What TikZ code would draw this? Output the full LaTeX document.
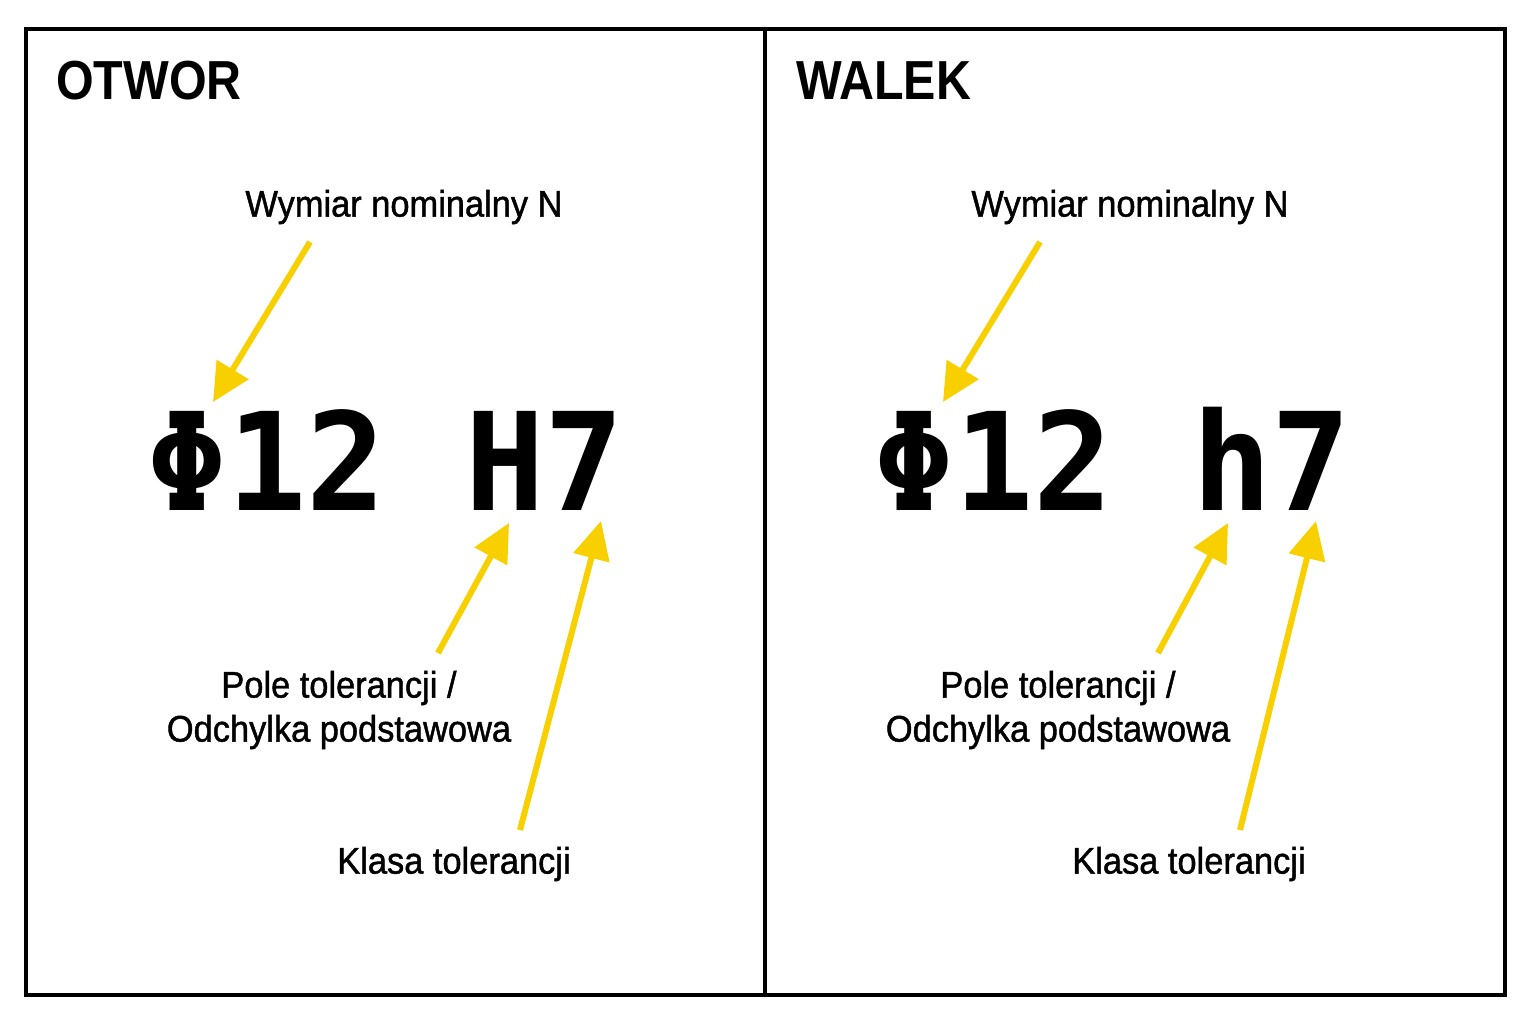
\documentclass[tikz,border=0pt]{standalone}
\usepackage{fontspec}
\setmainfont{Liberation Sans}[FakeStretch=0.93]
\newfontfamily\lblfont{Liberation Sans}[FakeStretch=0.93,FakeBold=1.2]
\newfontfamily\ttlfont{Liberation Sans}[FakeStretch=0.88]
\newfontfamily\bigmono{DejaVu Sans Mono}[FakeStretch=0.97]
\usetikzlibrary{arrows.meta}
\definecolor{ylw}{RGB}{248,208,0}
\tikzset{
  frame/.style={line width=4pt, draw=black},
  ptr/.style={draw=ylw, line width=6pt, -{Triangle[length=38pt,width=36pt]}},
  lbl/.style={inner sep=0pt, font=\fontsize{37}{44}\selectfont\lblfont, align=center},
  ttl/.style={inner sep=0pt, anchor=base west, font=\fontsize{55}{60}\selectfont\ttlfont\bfseries},
  code/.style={inner sep=0pt, anchor=base, font=\fontsize{136}{140}\selectfont\bigmono\bfseries}
}
\begin{document}
\begin{tikzpicture}[x=1pt,y=-1pt]
\useasboundingbox (0,0) rectangle (1536,1024);
\fill[white] (0,0) rectangle (1536,1024);
\draw[frame] (26,29) rectangle (1505,995);
\draw[frame] (765,29) -- (765,995);
% titles
\node[ttl] (t1) at (56,100) {OTWOR};
\node[ttl] (t2) at (796,100) {WALEK};
% codes
\node[code] (c1) at (386,510) {Φ12 H7};
\node[code] (c2) at (1113,510) {Φ12 h7};
% labels left
\node[lbl] (n1) at (404,207) {Wymiar nominalny N};
\node[lbl] (p1) at (339,710) {Pole tolerancji /\\Odchylka podstawowa};
\node[lbl] (k1) at (454,864) {Klasa tolerancji};
% labels right
\node[lbl] (n2) at (1130,207) {Wymiar nominalny N};
\node[lbl] (p2) at (1058,710) {Pole tolerancji /\\Odchylka podstawowa};
\node[lbl] (k2) at (1189,864) {Klasa tolerancji};
% arrow coordinates left
\coordinate (a1s) at (310,242); \coordinate (a1e) at (213,402);
\coordinate (a2s) at (438,653); \coordinate (a2e) at (509,523);
\coordinate (a3s) at (520,830); \coordinate (a3e) at (601,521);
% right
\coordinate (b1s) at (1040,242); \coordinate (b1e) at (943,402);
\coordinate (b2s) at (1158,653); \coordinate (b2e) at (1228,523);
\coordinate (b3s) at (1240,830); \coordinate (b3e) at (1316,521);
\draw[ptr] (a1s) -- (a1e);
\draw[ptr] (a2s) -- (a2e);
\draw[ptr] (a3s) -- (a3e);
\draw[ptr] (b1s) -- (b1e);
\draw[ptr] (b2s) -- (b2e);
\draw[ptr] (b3s) -- (b3e);
\end{tikzpicture}
\end{document}
